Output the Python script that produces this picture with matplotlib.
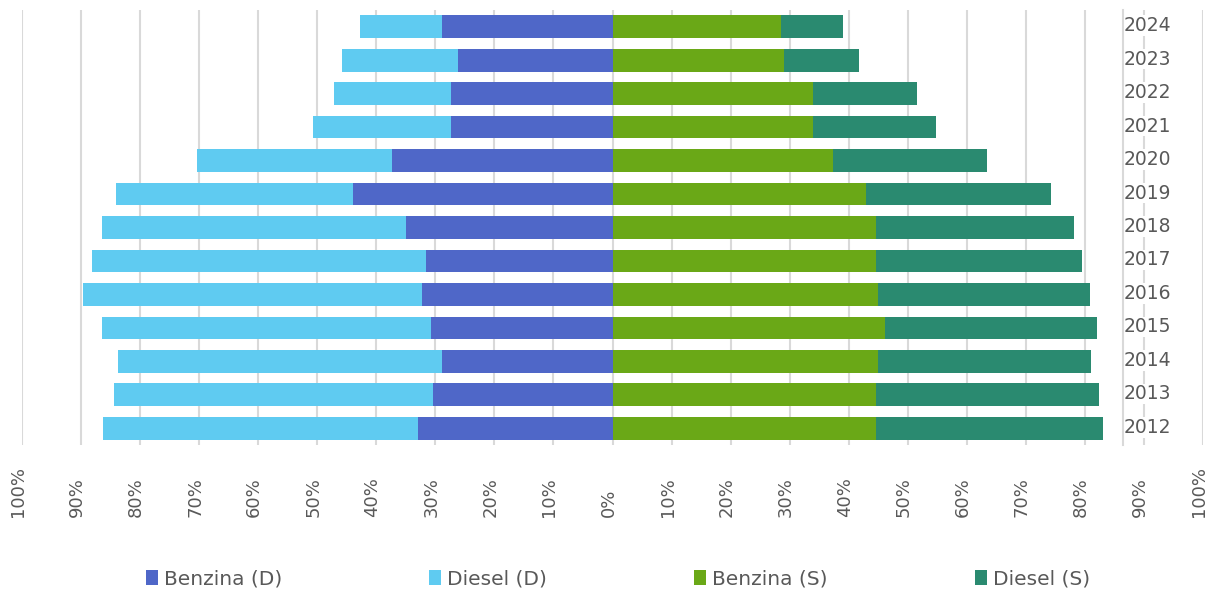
import matplotlib
matplotlib.use("Agg")
import matplotlib.pyplot as plt
from matplotlib.ticker import FuncFormatter, MultipleLocator
from matplotlib.patches import Patch
from matplotlib.transforms import ScaledTranslation

years = ["2012", "2013", "2014", "2015", "2016", "2017", "2018",
         "2019", "2020", "2021", "2022", "2023", "2024"]
benzina_d = [33.0, 30.4, 28.9, 30.7, 32.2, 31.5, 35.0, 44.0, 37.4, 27.3, 27.3, 26.1, 28.9]
diesel_d = [53.3, 54.1, 54.8, 55.8, 57.4, 56.6, 51.5, 40.0, 33.0, 23.4, 19.8, 19.7, 13.9]
benzina_s = [44.7, 44.7, 45.0, 46.2, 45.0, 44.7, 44.7, 42.9, 37.3, 33.9, 33.9, 29.1, 28.5]
diesel_s = [38.4, 37.7, 36.1, 35.9, 35.8, 34.8, 33.5, 31.3, 26.1, 20.8, 17.7, 12.7, 10.5]
labels = ["Benzina (D)", "Diesel (D)", "Benzina (S)", "Diesel (S)"]
colors = ["#4F67C8", "#5FCBF1", "#6AA817", "#2A8A70"]

plt.rcParams["font.family"] = ["DejaVu Sans"]

fig = plt.figure(figsize=(12.09, 5.92), dpi=100)
W, H = 1209, 592
ax = fig.add_axes([22 / W, (H - 445) / H, (1203 - 22) / W, (445 - 10) / H])

ypos = list(range(len(years)))
neg_b = [-v for v in benzina_d]
neg_d = [-v for v in diesel_d]
bh = 0.68
ax.barh(ypos, neg_b, height=bh, color=colors[0], zorder=3)
ax.barh(ypos, neg_d, left=neg_b, height=bh, color=colors[1], zorder=3)
ax.barh(ypos, benzina_s, height=bh, color=colors[2], zorder=3)
ax.barh(ypos, diesel_s, left=benzina_s, height=bh, color=colors[3], zorder=3)

ax.set_xlim(-100, 100)
ax.set_ylim(-0.5, len(years) - 0.5)
ax.xaxis.set_major_locator(MultipleLocator(10))
ax.xaxis.set_major_formatter(FuncFormatter(lambda v, p: f"{abs(v):.0f}%"))
ax.grid(axis="x", color="#D9D9D9", linewidth=1.5, zorder=0)
ax.set_axisbelow(True)

for s in ["top", "left", "bottom"]:
    ax.spines[s].set_visible(False)
ax.spines["right"].set_position(("data", 86.4))
ax.spines["right"].set_color("#D9D9D9")
ax.spines["right"].set_linewidth(1.5)

ax.yaxis.tick_right()
ax.set_yticks(ypos)
ax.set_yticklabels(years)
ax.tick_params(axis="y", length=0, pad=1, labelsize=13.5, labelcolor="#595959")
ax.tick_params(axis="x", length=0, pad=52, labelsize=13, labelcolor="#595959")
left_shift = ScaledTranslation(-4 / 100, 0, fig.dpi_scale_trans)
for lbl in ax.get_xticklabels():
    lbl.set_rotation(90)
    lbl.set_rotation_mode("anchor")
    lbl.set_ha("left")
    lbl.set_va("center")
    lbl.set_transform(lbl.get_transform() + left_shift)
up = ScaledTranslation(0, 3 / 100, fig.dpi_scale_trans)
for lbl in ax.get_yticklabels():
    lbl.set_bbox(dict(facecolor="white", edgecolor="none", pad=0.5))
    lbl.set_transform(lbl.get_transform() + up)

handles = [Patch(facecolor=c, edgecolor="none") for c in colors]
fig.legend(handles, labels, loc="center", bbox_to_anchor=(0.511, (H - 579) / H),
           ncol=4, frameon=False, fontsize=14.5, labelcolor="#595959",
           handlelength=0.6, handleheight=0.8, handletextpad=0.3,
           columnspacing=7.3)

fig.savefig("out.png", dpi=100)
